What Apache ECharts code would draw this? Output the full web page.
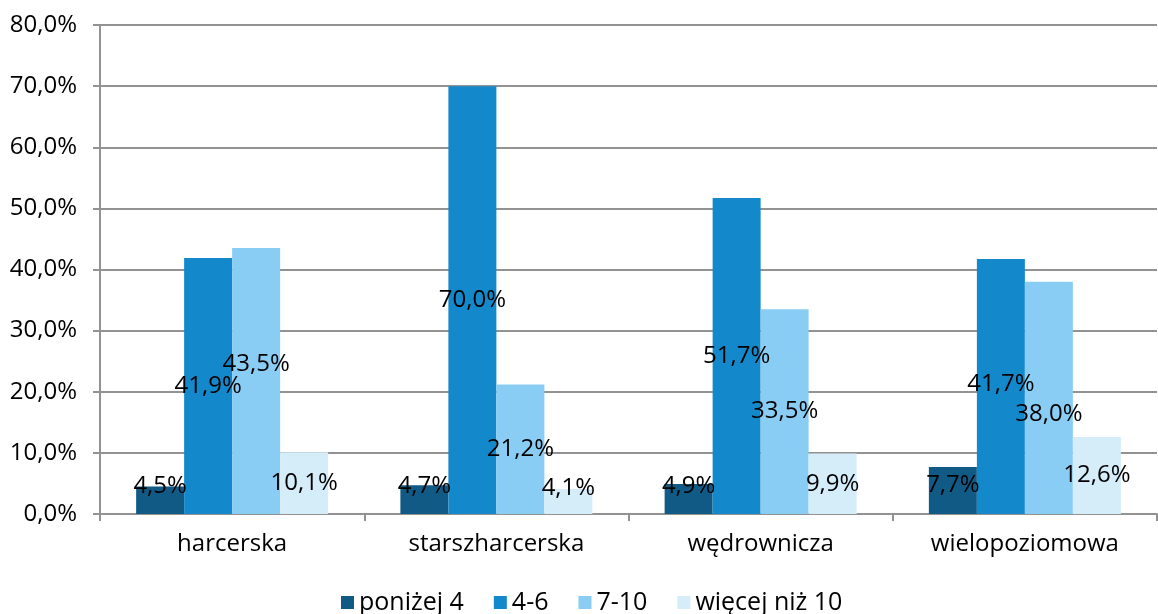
<!DOCTYPE html>
<html>
<head>
<meta charset="utf-8">
<script src="https://cdn.jsdelivr.net/npm/echarts@6/dist/echarts.min.js"></script>
<style>html,body{margin:0;padding:0;background:#fff}#c{width:1158px;height:614px}</style>
</head>
<body>
<div id="c"></div>
<script>
const categories = ['harcerska', 'starszharcerska', 'wędrownicza', 'wielopoziomowa'];
const seriesNames = ['poniżej 4', '4-6', '7-10', 'więcej niż 10'];
const below4 = [4.5, 4.7, 4.9, 7.7];
const from4to6 = [41.9, 70.0, 51.7, 41.7];
const from7to10 = [43.5, 21.2, 33.5, 38.0];
const above10 = [10.1, 4.1, 9.9, 12.6];
const yTicks = [0, 10, 20, 30, 40, 50, 60, 70, 80];

const colors = ['#125A86', '#1388CB', '#8ACDF4', '#D5ECF9'];
// label pixel nudges (Excel overlap/clamp adjustments)
const labelNudges = [
  [-14, -13, -13, -5],
  [0, 0, 0, -2],
  [-17, 0, 0, 16],
  [0, -13, 0, 0]
];
const FONT = '"Open Sans", sans-serif';
const fmt = v => v.toFixed(1).replace('.', ',') + '%';
const allSeries = [below4, from4to6, from7to10, above10];
const GRID = '#929292';

const chart = echarts.init(document.getElementById('c'), null, {renderer: 'canvas'});
chart.setOption({
  animation: false,
  textStyle: {fontFamily: FONT},
  grid: {left: 100, right: 1, top: 25, bottom: 100, containLabel: false},
  legend: {
    data: seriesNames,
    top: 585,
    left: 336,
    itemWidth: 13,
    itemHeight: 13,
    itemGap: 30,
    icon: 'rect',
    textStyle: {fontFamily: FONT, fontSize: 25, color: '#000', padding: [0, 0, 0, 0]}
  },
  xAxis: {
    type: 'category',
    data: categories,
    axisLine: {lineStyle: {color: GRID, width: 2}},
    axisTick: {show: true, length: 7, alignWithLabel: false, lineStyle: {color: GRID, width: 2}},
    axisLabel: {fontFamily: FONT, fontSize: 24, color: '#000', margin: 18}
  },
  yAxis: {
    type: 'value',
    min: yTicks[0],
    max: yTicks[yTicks.length - 1],
    interval: 10,
    axisLine: {show: true, lineStyle: {color: GRID, width: 2}},
    axisTick: {show: true, length: 7, lineStyle: {color: GRID, width: 2}},
    splitLine: {lineStyle: {color: GRID, width: 2}},
    axisLabel: {fontFamily: FONT, fontSize: 24, color: '#000', margin: 23, formatter: fmt}
  },
  series: allSeries.map((arr, si) => ({
    name: seriesNames[si],
    type: 'bar',
    barWidth: 48,
    barGap: '0%',
    itemStyle: {color: colors[si]},
    label: {
      show: true,
      position: 'inside',
      color: '#000',
      fontFamily: FONT,
      fontSize: 24,
      formatter: p => fmt(p.value)
    },
    data: arr.map((v, i) => ({
      value: v,
      label: {offset: [0, labelNudges[si][i]]}
    }))
  }))
});
</script>
</body>
</html>
